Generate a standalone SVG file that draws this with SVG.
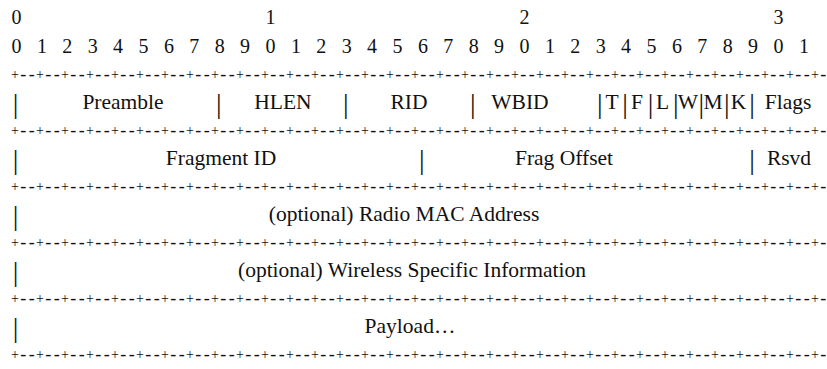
<svg xmlns="http://www.w3.org/2000/svg" xmlns:xlink="http://www.w3.org/1999/xlink" width="827" height="369" viewBox="0 0 827 369" font-family="'Liberation Serif', 'Times New Roman', serif">
  <style>
    text { font-family: 'Liberation Serif', 'Times New Roman', serif; fill: #111; }
    .num { font-size: 20px; text-anchor: middle; }
    .lbl { font-size: 21.5px; text-anchor: middle; }
    .bar { font-size: 28px; text-anchor: middle; }
    .plus { font-size: 14px; text-anchor: middle; fill: #111; }
    .dash { font-size: 18px; text-anchor: middle; fill: #111; }
  </style>
  <defs>
    <!-- one "+-+-+" ruler line between the rows, drawn as characters -->
    <g id="rule">
      <text class="plus" y="3.5" x="15 40 65 90 115 140 165 190 215 240 265 290 315 340 365 390 415 440 465 490 515 540 565 590 615 640 665 690 715 740 765 790 815">+++++++++++++++++++++++++++++++++</text>
      <text class="dash" y="4.5" x="23.3 31.7 48.3 56.7 73.3 81.7 98.3 106.7 123.3 131.7 148.3 156.7 173.3 181.7 198.3 206.7 223.3 231.7 248.3 256.7 273.3 281.7 298.3 306.7 323.3 331.7 348.3 356.7 373.3 381.7 398.3 406.7 423.3 431.7 448.3 456.7 473.3 481.7 498.3 506.7 523.3 531.7 548.3 556.7 573.3 581.7 598.3 606.7 623.3 631.7 648.3 656.7 673.3 681.7 698.3 706.7 723.3 731.7 748.3 756.7 773.3 781.7 798.3 806.7 823.3 831.7">------------------------------------------------------------------</text>
    </g>
    <!-- field separator bar -->
    <text id="bar" class="bar" y="0">|</text>
  </defs>

  <!-- bit numbering -->
  <g id="bit-numbers">
    <text class="num" y="24" x="16.5 270.5 524.5 778.5">0123</text>
    <text class="num" y="53" x="16.5 41.9 67.3 92.7 118.1 143.5 168.9 194.3 219.7 245.1 270.5 295.9 321.3 346.7 372.1 397.5 422.9 448.3 473.7 499.1 524.5 549.9 575.3 600.7 626.1 651.5 676.9 702.3 727.7 753.1 778.5 803.9">01234567890123456789012345678901</text>
  </g>

  <!-- ruler lines -->
  <g id="rules">
    <use xlink:href="#rule" transform="translate(0,75)"/>
    <use xlink:href="#rule" transform="translate(0,131)"/>
    <use xlink:href="#rule" transform="translate(0,187)"/>
    <use xlink:href="#rule" transform="translate(0,243)"/>
    <use xlink:href="#rule" transform="translate(0,299)"/>
    <use xlink:href="#rule" transform="translate(0,355)"/>
  </g>

  <!-- word 1: header fields and flag bits -->
  <g id="row-header">
    <use xlink:href="#bar" x="15.5" y="113"/>
    <use xlink:href="#bar" x="218.7" y="113"/>
    <use xlink:href="#bar" x="345.7" y="113"/>
    <use xlink:href="#bar" x="472.7" y="113"/>
    <use xlink:href="#bar" x="599.7" y="113"/>
    <use xlink:href="#bar" x="625.1" y="113"/>
    <use xlink:href="#bar" x="650.5" y="113"/>
    <use xlink:href="#bar" x="675.9" y="113"/>
    <use xlink:href="#bar" x="701.3" y="113"/>
    <use xlink:href="#bar" x="726.7" y="113"/>
    <use xlink:href="#bar" x="752.1" y="113"/>
    <text class="lbl" y="109" x="123">Preamble</text>
    <text class="lbl" y="109" x="283">HLEN</text>
    <text class="lbl" y="109" x="409">RID</text>
    <text class="lbl" y="109" x="520">WBID</text>
    <text class="lbl" y="109" x="612">T</text>
    <text class="lbl" y="109" x="637">F</text>
    <text class="lbl" y="109" x="662.5">L</text>
    <text class="lbl" y="109" x="688">W</text>
    <text class="lbl" y="109" x="713">M</text>
    <text class="lbl" y="109" x="738.5">K</text>
    <text class="lbl" y="109" x="788">Flags</text>
  </g>

  <!-- word 2: fragmentation -->
  <g id="row-fragment">
    <use xlink:href="#bar" x="15.5" y="169"/>
    <use xlink:href="#bar" x="421.9" y="169"/>
    <use xlink:href="#bar" x="752.1" y="169"/>
    <text class="lbl" y="165" x="221">Fragment ID</text>
    <text class="lbl" y="165" x="564">Frag Offset</text>
    <text class="lbl" y="165" x="789">Rsvd</text>
  </g>

  <!-- optional words and payload -->
  <g id="row-radio-mac">
    <use xlink:href="#bar" x="15.5" y="225"/>
    <text class="lbl" y="221" x="404">(optional) Radio MAC Address</text>
  </g>
  <g id="row-wireless-info">
    <use xlink:href="#bar" x="15.5" y="281"/>
    <text class="lbl" y="277" x="412">(optional) Wireless Specific Information</text>
  </g>
  <g id="row-payload">
    <use xlink:href="#bar" x="15.5" y="337"/>
    <text class="lbl" y="333" x="410">Payload…</text>
  </g>
</svg>
